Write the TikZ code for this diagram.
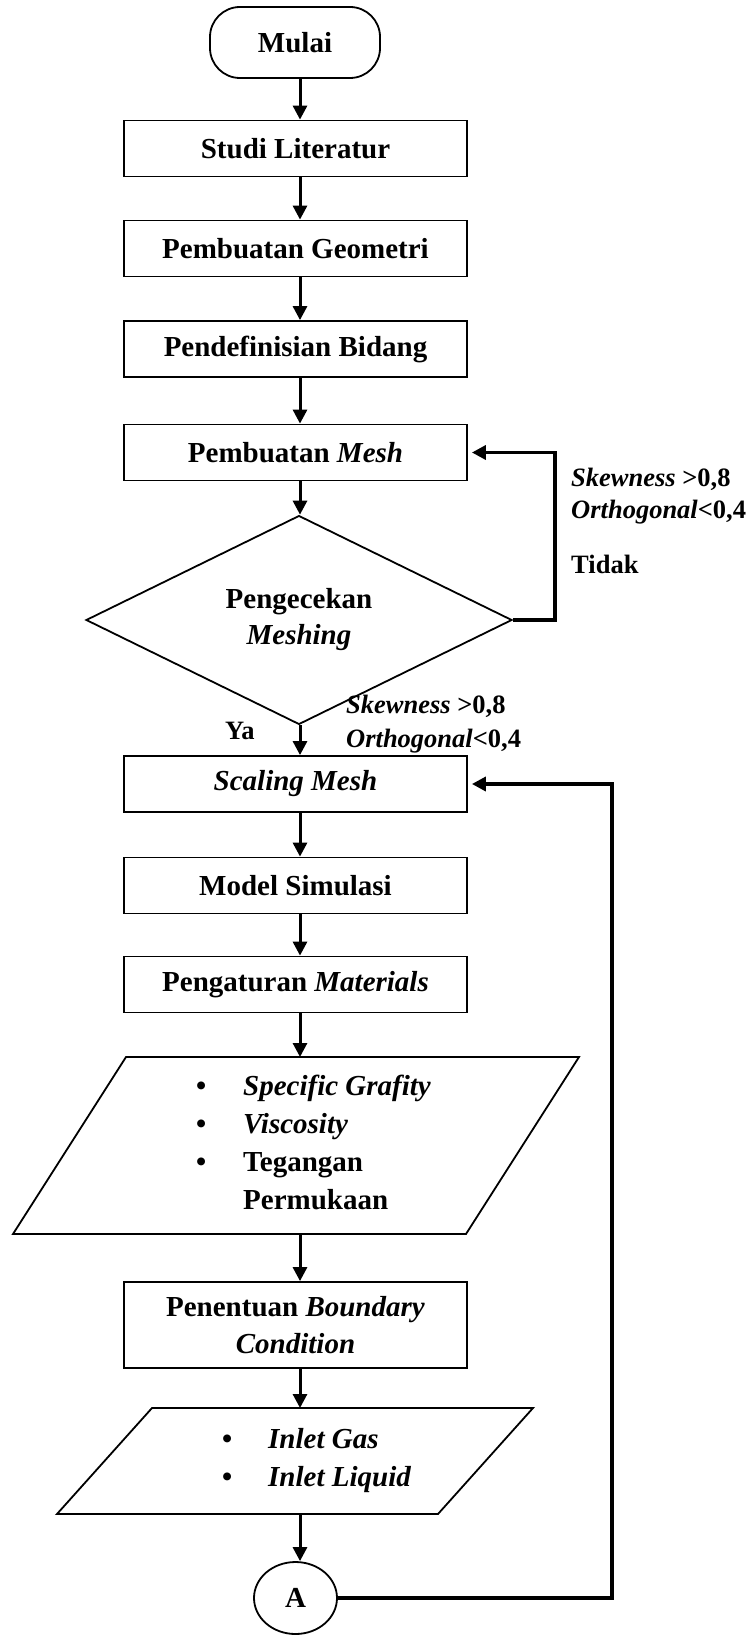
\documentclass[tikz,border=0pt]{standalone}
\usepackage{fontspec}
\setmainfont{Liberation Serif}
\usetikzlibrary{arrows.meta,shapes.geometric,calc}
\begin{document}
\begin{tikzpicture}[x=1pt,y=-1pt,
  every node/.style={font=\fontsize{29}{36}\selectfont\bfseries},
  procbox/.style={draw,line width=1.8pt,rectangle,minimum width=343pt,minimum height=56pt,inner sep=0pt,align=center},
  startbox/.style={draw,line width=1.8pt,rectangle,rounded corners=30pt,minimum width=170pt,minimum height=71pt,inner sep=0pt},
  decision/.style={draw,line width=1.8pt,diamond,minimum width=426pt,minimum height=184pt,inner sep=0pt,align=center},
  connector/.style={draw,line width=1.8pt,ellipse,minimum width=83pt,minimum height=72pt,inner sep=0pt},
  fwd/.style={line width=3pt,-{Triangle[length=14pt,width=14pt]}},
  backflow/.style={line width=3.5pt,-{Triangle[length=14pt,width=14pt]},shorten >=4pt},
  iobox/.style={draw,line width=1.8pt,line join=miter},
  lbl/.style={font=\fontsize{26.5}{32}\selectfont\bfseries,inner sep=0pt,anchor=base west},
  listtxt/.style={inner sep=0pt,anchor=base west,font=\fontsize{29}{38}\selectfont\bfseries}
]
\useasboundingbox (0,0) rectangle (752,1635);
\coordinate (stem) at (300,0);
\coordinate (lx1) at (555,0);
\coordinate (lx2) at (612,0);

% main nodes
\node[startbox] (mulai) at (295,42.5) {Mulai};
\node[procbox] (studi) at (295.5,148.5) {Studi Literatur};
\node[procbox] (geo) at (295.5,248.5) {Pembuatan Geometri};
\node[procbox] (bidang) at (295.5,349) {Pendefinisian Bidang};
\node[procbox] (mesh) at (295.5,452.5) {Pembuatan \textit{Mesh}};
\node[decision] (cek) at (299,620) {Pengecekan\\\textit{Meshing}};
\node[procbox] (scal) at (295.5,784) {\textit{Scaling Mesh}};
\node[procbox] (model) at (295.5,885.5) {Model Simulasi};
\node[procbox] (mat) at (295.5,984.5) {Pengaturan \textit{Materials}};

% input/output 1
\draw[iobox] (126,1057) -- (579,1057) -- (466,1234) -- (13,1234) -- cycle;
\coordinate (p1top) at (300,1057);
\coordinate (p1bot) at (300,1234);
\node[listtxt] (p1txt) at (196,1095) {\begin{tabular}[t]{@{}l@{}l@{}}
\makebox[47pt][l]{\textbullet} & \textit{Specific Grafity}\\
\makebox[47pt][l]{\textbullet} & \textit{Viscosity}\\
\makebox[47pt][l]{\textbullet} & Tegangan\\
 & Permukaan
\end{tabular}};

\node[procbox,minimum height=86pt,font=\fontsize{29}{37}\selectfont\bfseries] (bound) at (295.5,1325) {Penentuan \textit{Boundary}\\\textit{Condition}};

% input/output 2
\draw[iobox] (152,1408) -- (533,1408) -- (438,1514) -- (57,1514) -- cycle;
\coordinate (p2top) at (300,1408);
\coordinate (p2bot) at (300,1514);
\node[listtxt] (p2txt) at (222,1448) {\begin{tabular}[t]{@{}l@{}l@{}}
\makebox[46pt][l]{\textbullet} & \textit{Inlet Gas}\\
\makebox[46pt][l]{\textbullet} & \textit{Inlet Liquid}
\end{tabular}};

\node[connector] (A) at (295.5,1598) {A};

% labels
\node[lbl] (skew1) at (571,486) {\textit{Skewness} >0,8};
\node[lbl] (orth1) at (571,518) {\textit{Orthogonal}<0,4};
\node[lbl] (tidak) at (571,573) {Tidak};
\node[lbl] (skew2) at (346,713) {\textit{Skewness} >0,8};
\node[lbl] (orth2) at (346,747) {\textit{Orthogonal}<0,4};
\node[lbl] (ya) at (225,739) {Ya};

% main flow
\draw[fwd] (mulai.south -| stem) -- (studi.north -| stem);
\draw[fwd] (studi.south -| stem) -- (geo.north -| stem);
\draw[fwd] (geo.south -| stem) -- (bidang.north -| stem);
\draw[fwd] (bidang.south -| stem) -- (mesh.north -| stem);
\draw[fwd] (mesh.south -| stem) -- (cek.north -| stem);
\draw[fwd] (cek.south -| stem) -- (scal.north -| stem);
\draw[fwd] (scal.south -| stem) -- (model.north -| stem);
\draw[fwd] (model.south -| stem) -- (mat.north -| stem);
\draw[fwd] (mat.south -| stem) -- (p1top);
\draw[fwd] (p1bot) -- (bound.north -| stem);
\draw[fwd] (bound.south -| stem) -- (p2top);
\draw[fwd] (p2bot) -- (A.north -| stem);

% loops
\draw[backflow] (cek.east) -- (cek.east -| lx1) -- (lx1 |- mesh.east) -- (mesh.east);
\draw[backflow] (A.east) -- (A.east -| lx2) -- (lx2 |- scal.east) -- (scal.east);
\end{tikzpicture}
\end{document}
